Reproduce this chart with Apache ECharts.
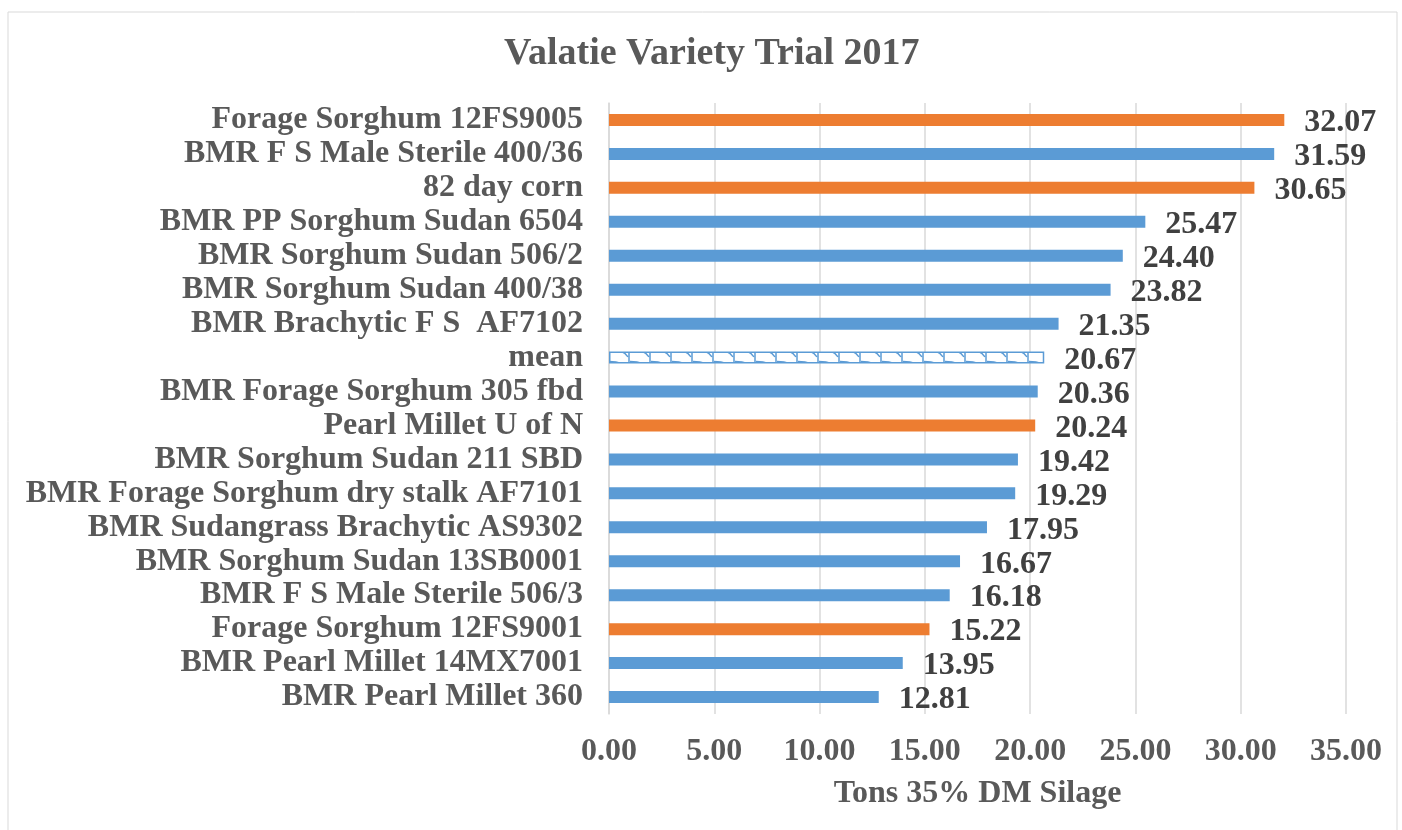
<!DOCTYPE html>
<html>
<head>
<meta charset="utf-8">
<script src="https://cdn.jsdelivr.net/npm/echarts@6/dist/echarts.min.js"></script>
<style>
html,body{margin:0;padding:0;background:#fff;}
#chart{width:1402px;height:830px;}
</style>
</head>
<body>
<div id="chart"></div>
<script>
const categories = [
  'Forage Sorghum 12FS9005',
  'BMR F S Male Sterile 400/36',
  '82 day corn',
  'BMR PP Sorghum Sudan 6504',
  'BMR Sorghum Sudan 506/2',
  'BMR Sorghum Sudan 400/38',
  'BMR Brachytic F S  AF7102',
  'mean',
  'BMR Forage Sorghum 305 fbd',
  'Pearl Millet U of N',
  'BMR Sorghum Sudan 211 SBD',
  'BMR Forage Sorghum dry stalk AF7101',
  'BMR Sudangrass Brachytic AS9302',
  'BMR Sorghum Sudan 13SB0001',
  'BMR F S Male Sterile 506/3',
  'Forage Sorghum 12FS9001',
  'BMR Pearl Millet 14MX7001',
  'BMR Pearl Millet 360'
];
const values = [32.07, 31.59, 30.65, 25.47, 24.40, 23.82, 21.35, 20.67, 20.36, 20.24, 19.42, 19.29, 17.95, 16.67, 16.18, 15.22, 13.95, 12.81];
const groups = ['other','bmr','other','bmr','bmr','bmr','bmr','mean','bmr','other','bmr','bmr','bmr','bmr','bmr','other','bmr','bmr'];
const xTicks = [0, 5, 10, 15, 20, 25, 30, 35];

const FONT = "'Liberation Serif', 'Times New Roman', serif";
const BLUE = '#5B9BD5';
const ORANGE = '#ED7D31';

// pattern for the mean bar
const pc = document.createElement('canvas');
pc.width = 21; pc.height = 12;
const g = pc.getContext('2d');
g.fillStyle = '#ffffff';
g.fillRect(0, 0, 21, 12);
g.strokeStyle = BLUE;
g.lineWidth = 1.5;
g.beginPath();
g.moveTo(0, 1.5);
g.quadraticCurveTo(15, 1.5, 19, 9);
g.stroke();
g.beginPath();
g.moveTo(20, 0);
g.lineTo(20, 12);
g.stroke();

const colorFor = {bmr: BLUE, other: ORANGE};

const data = values.map((v, i) => {
  if (groups[i] === 'mean') {
    return {value: v, itemStyle: {color: {image: pc, repeat: 'repeat'}, borderColor: BLUE, borderWidth: 1.5}};
  }
  return {value: v, itemStyle: {color: colorFor[groups[i]]}};
});

const chart = echarts.init(document.getElementById('chart'));
chart.setOption({
  animation: false,
  backgroundColor: '#ffffff',
  title: {
    text: 'Valatie Variety Trial 2017',
    left: 499,
    top: 30,
    textStyle: {fontFamily: FONT, fontSize: 38, fontWeight: 'bold', color: '#595959'}
  },
  graphic: [{
    type: 'rect',
    shape: {x: 8, y: 12, width: 1389, height: 830},
    style: {fill: 'none', stroke: '#d9d9d9', lineWidth: 1},
    silent: true
  }],
  grid: {left: 609, right: 56, top: 103, bottom: 116, containLabel: false},
  xAxis: {
    type: 'value',
    min: xTicks[0],
    max: xTicks[xTicks.length - 1],
    interval: 5,
    name: 'Tons 35% DM Silage',
    nameLocation: 'middle',
    nameGap: 64,
    nameTextStyle: {fontFamily: FONT, fontSize: 32, fontWeight: 'bold', color: '#595959'},
    axisLine: {show: false},
    axisTick: {show: false},
    axisLabel: {
      fontFamily: FONT, fontSize: 32, fontWeight: 'bold', color: '#595959', margin: 22,
      formatter: v => v.toFixed(2)
    },
    splitLine: {show: true, lineStyle: {color: '#d9d9d9', width: 1.5}}
  },
  yAxis: {
    type: 'category',
    data: categories,
    inverse: true,
    axisLine: {show: true, lineStyle: {color: '#d9d9d9', width: 1.5}},
    axisTick: {show: false},
    axisLabel: {interval: 0, fontFamily: FONT, fontSize: 32, fontWeight: 'bold', color: '#595959', margin: 26}
  },
  series: [{
    type: 'bar',
    data: data,
    barWidth: 12,
    label: {
      show: true,
      position: 'right',
      distance: 20,
      offset: [0, 3],
      fontFamily: FONT, fontSize: 32, fontWeight: 'bold', color: '#404040',
      formatter: p => p.value.toFixed(2)
    }
  }]
});
</script>
</body>
</html>
